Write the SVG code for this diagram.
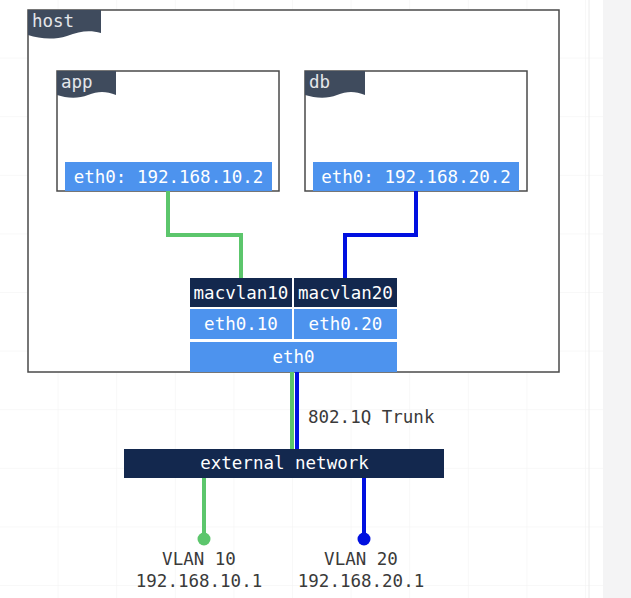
<svg xmlns="http://www.w3.org/2000/svg" width="631" height="598" viewBox="0 0 631 598">
<defs>
<pattern id="grid" width="58.6" height="58.6" patternUnits="userSpaceOnUse">
<path d="M58.6,0 V58.6 M0,58.6 H58.6" fill="none" stroke="#f2f2f2" stroke-width="1"/>
</pattern>
</defs>
<style>
.t{font-family:"DejaVu Sans Mono","Liberation Mono",monospace;font-size:17.5px;}
.w{fill:#ffffff;}
.lbl{fill:#e4e6ea;}
.dk{fill:#3a3a3a;}
.box{fill:#ffffff;stroke:#4a4a4a;stroke-width:1.5;}
.tab{fill:#3f4b5d;}
.blue{fill:#4d93ee;}
.navy{fill:#13284e;}
.g{stroke:#5cc66c;stroke-width:4;fill:none;}
.b{stroke:#0010e0;stroke-width:4;fill:none;}
</style>
<rect width="631" height="598" fill="#ffffff"/>
<rect width="603" height="598" fill="url(#grid)"/>
<line x1="589" y1="0" x2="589" y2="598" stroke="#ececec" stroke-width="1"/>
<rect x="603" y="0" width="28" height="598" fill="#f4f4f5"/>

<g id="host">
<rect class="box" x="28" y="10" width="531" height="362"/>
<path class="tab" d="M28,10 H101 V33 C90,30 80,31 67,36 C54,40 40,39 28,35 Z"/>
<text class="t lbl" x="32" y="27">host</text>
</g>

<g id="app">
<rect class="box" x="57" y="71" width="222" height="120"/>
<path class="tab" d="M57,71 H116 V95 C106,91 98,91 88,95 C78,99 66,98 57,95 Z"/>
<text class="t lbl" x="61" y="88">app</text>
</g>
<g id="app-eth0">
<rect class="blue" x="65" y="162" width="207" height="29"/>
<text class="t w" x="168.5" y="183" text-anchor="middle">eth0: 192.168.10.2</text>
</g>

<g id="db">
<rect class="box" x="305" y="71" width="222" height="120"/>
<path class="tab" d="M305,71 H365 V95 C355,91 347,91 337,95 C327,99 315,98 305,95 Z"/>
<text class="t lbl" x="309" y="88">db</text>
</g>
<g id="db-eth0">
<rect class="blue" x="313" y="162" width="206" height="29"/>
<text class="t w" x="416" y="183" text-anchor="middle">eth0: 192.168.20.2</text>
</g>

<g id="connectors">
<path class="g" d="M168,191 V235 H241 V278"/>
<path class="b" d="M416,191 V235 H345 V278"/>
<line class="g" x1="292" y1="372" x2="292" y2="449"/>
<line class="b" x1="297" y1="372" x2="297" y2="449"/>
<line class="g" x1="204" y1="478" x2="204" y2="539"/>
<line class="b" x1="364" y1="478" x2="364" y2="539"/>
<circle cx="204" cy="539" r="6.5" fill="#5cc66c"/>
<circle cx="364" cy="539" r="6.5" fill="#0010e0"/>
</g>

<g id="macvlan10">
<rect class="navy" x="190" y="278" width="102" height="29"/>
<text class="t w" x="241" y="299" text-anchor="middle">macvlan10</text>
</g>
<g id="macvlan20">
<rect class="navy" x="294" y="278" width="103" height="29"/>
<text class="t w" x="345.5" y="299" text-anchor="middle">macvlan20</text>
</g>
<g id="eth0-10">
<rect class="blue" x="190" y="309" width="102" height="30"/>
<text class="t w" x="241" y="330" text-anchor="middle">eth0.10</text>
</g>
<g id="eth0-20">
<rect class="blue" x="294" y="309" width="103" height="30"/>
<text class="t w" x="345.5" y="330" text-anchor="middle">eth0.20</text>
</g>
<g id="eth0">
<rect class="blue" x="190" y="342" width="207" height="30"/>
<text class="t w" x="293.5" y="363" text-anchor="middle">eth0</text>
</g>

<text class="t dk" x="308" y="423">802.1Q Trunk</text>

<g id="external-network">
<rect class="navy" x="124" y="449" width="320" height="29"/>
<text class="t w" x="284.5" y="469" text-anchor="middle">external network</text>
</g>

<g id="vlan10">
<text class="t dk" x="199" y="565" text-anchor="middle">VLAN 10</text>
<text class="t dk" x="199" y="587" text-anchor="middle">192.168.10.1</text>
</g>
<g id="vlan20">
<text class="t dk" x="361" y="565" text-anchor="middle">VLAN 20</text>
<text class="t dk" x="361" y="587" text-anchor="middle">192.168.20.1</text>
</g>
</svg>
